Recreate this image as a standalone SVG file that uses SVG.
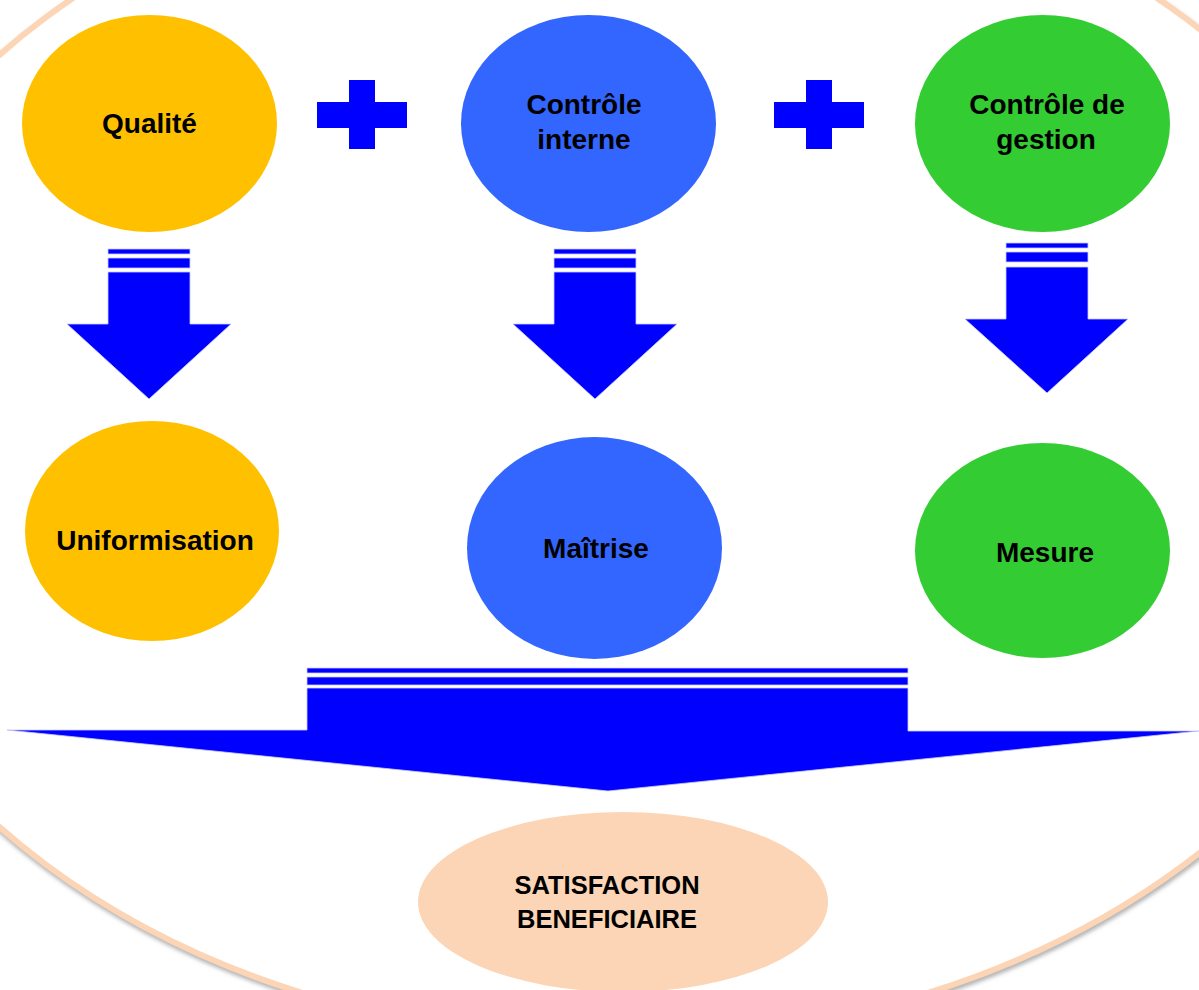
<svg xmlns="http://www.w3.org/2000/svg" width="1199" height="990" viewBox="0 0 1199 990">
<defs>
<style>
.lbl{font-family:"Liberation Sans",Arial,sans-serif;font-weight:bold;font-size:28px;fill:#000;text-anchor:middle}
.lbs{font-family:"Liberation Sans",Arial,sans-serif;font-weight:bold;font-size:25.5px;fill:#000;text-anchor:middle}
.arr{fill:#0000FF;stroke:#C8C8FF;stroke-width:0.8}
.plus{fill:#0000FF}
</style>
<filter id="sh" x="-10%" y="-10%" width="120%" height="120%">
<feGaussianBlur stdDeviation="2"/>
</filter>
</defs>
<rect x="0" y="0" width="1199" height="990" fill="#FFFFFF"/>
<g id="background">
<ellipse cx="616" cy="444" rx="805" ry="599" fill="none" stroke="#8C8C8C" stroke-opacity="0.7" stroke-width="6" filter="url(#sh)"/>
<ellipse cx="615" cy="441" rx="805" ry="599" fill="#FFFFFF" stroke="#FBD5B5" stroke-width="6"/>
</g>
<g id="plus1" class="plus">
<rect x="317" y="102" width="90" height="26"/>
<rect x="349" y="80" width="26" height="69"/>
</g>
<g id="plus2" class="plus">
<rect x="774" y="102" width="90" height="26"/>
<rect x="806" y="80" width="26" height="69"/>
</g>
<g id="connectors">
<g id="arrow1">
<rect class="arr" x="108" y="249" width="82" height="5"/>
<rect class="arr" x="108" y="258" width="82" height="10"/>
<polygon class="arr" points="108,272 190,272 190,324 231,324 149,399 67,324 108,324"/>
</g>
<g id="arrow2">
<rect class="arr" x="554" y="249" width="82" height="5"/>
<rect class="arr" x="554" y="258" width="82" height="10"/>
<polygon class="arr" points="554,272 636,272 636,324 677,324 595,399 513,324 554,324"/>
</g>
<g id="arrow3">
<rect class="arr" x="1006" y="243" width="82" height="5"/>
<rect class="arr" x="1006" y="252" width="82" height="10"/>
<polygon class="arr" points="1006,267 1088,267 1088,319 1128,319 1047,393 965,319 1006,319"/>
</g>
<g id="arrowBig">
<rect class="arr" x="307" y="668" width="601" height="5"/>
<rect class="arr" x="307" y="677" width="601" height="8"/>
<polygon class="arr" points="307,688 908,688 908,731 1199,731 608,791 7,730 307,730"/>
</g>
</g>
<g id="node-qualite">
<ellipse cx="149.5" cy="123.5" rx="127.5" ry="108.5" fill="#FFC000"/>
<text class="lbl" x="149.5" y="133">Qualité</text>
</g>
<g id="node-controle-interne">
<ellipse cx="588.5" cy="123.5" rx="127.5" ry="108.5" fill="#3366FF"/>
<text class="lbl" x="584" y="114">Contrôle</text>
<text class="lbl" x="584" y="149">interne</text>
</g>
<g id="node-controle-gestion">
<ellipse cx="1042.5" cy="123.5" rx="127.5" ry="108.5" fill="#33CC33"/>
<text class="lbl" x="1047" y="114">Contrôle de</text>
<text class="lbl" x="1046" y="149">gestion</text>
</g>
<g id="node-uniformisation">
<ellipse cx="152" cy="531" rx="127" ry="110" fill="#FFC000"/>
<text class="lbl" x="155" y="550">Uniformisation</text>
</g>
<g id="node-maitrise">
<ellipse cx="594.5" cy="548" rx="127.5" ry="111" fill="#3366FF"/>
<text class="lbl" x="596" y="558">Maîtrise</text>
</g>
<g id="node-mesure">
<ellipse cx="1042.5" cy="550.5" rx="127.5" ry="107.5" fill="#33CC33"/>
<text class="lbl" x="1045" y="562">Mesure</text>
</g>
<g id="node-satisfaction">
<ellipse cx="623" cy="902" rx="205" ry="90" fill="#FBD5B5"/>
<text class="lbs" x="607" y="894">SATISFACTION</text>
<text class="lbs" x="607" y="928">BENEFICIAIRE</text>
</g>
</svg>
